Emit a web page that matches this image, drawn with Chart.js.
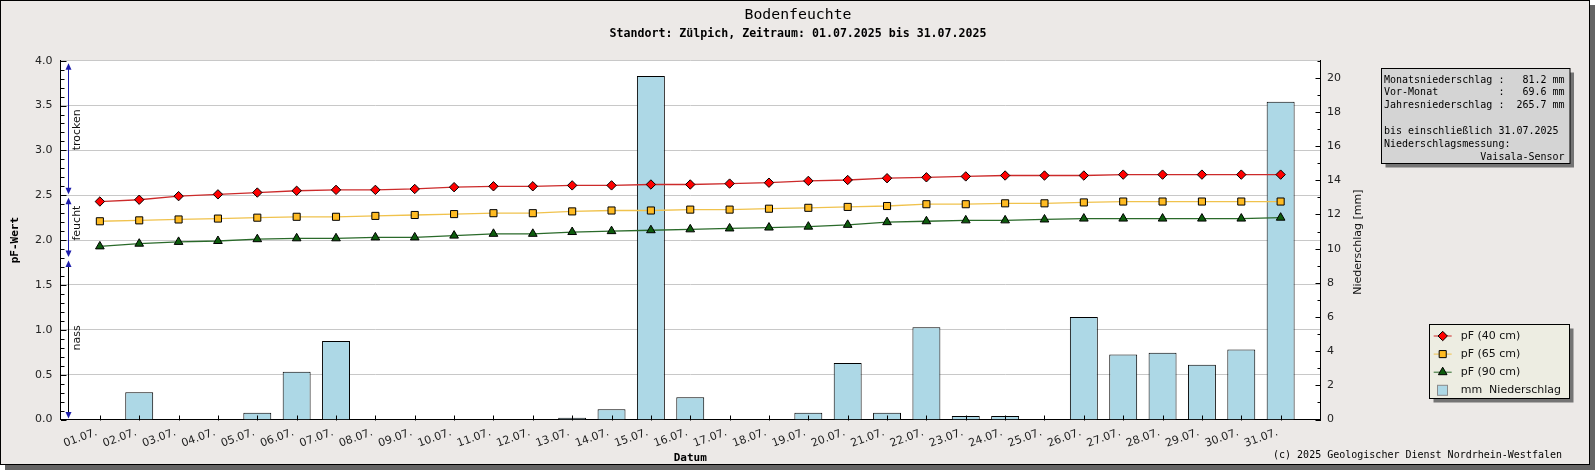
<!DOCTYPE html>
<html><head><meta charset="utf-8">
<script src="https://cdn.jsdelivr.net/npm/chart.js@4/dist/chart.umd.min.js"></script>
<style>html,body{margin:0;padding:0;background:#fff;overflow:hidden}#wrap{width:1595px;height:470px;position:relative}canvas{display:block}</style>
</head><body><div id="wrap"><canvas id="c" width="1595" height="470"></canvas></div>
<script>
// ---------------- data ----------------
const days = ['01.07.','02.07.','03.07.','04.07.','05.07.','06.07.','07.07.','08.07.','09.07.','10.07.',
  '11.07.','12.07.','13.07.','14.07.','15.07.','16.07.','17.07.','18.07.','19.07.','20.07.',
  '21.07.','22.07.','23.07.','24.07.','25.07.','26.07.','27.07.','28.07.','29.07.','30.07.','31.07.'];
const pf40 = [2.43,2.45,2.49,2.51,2.53,2.55,2.56,2.56,2.57,2.59,2.60,2.60,2.61,2.61,2.62,2.62,2.63,2.64,2.66,2.67,2.69,2.70,2.71,2.72,2.72,2.72,2.73,2.73,2.73,2.73,2.73];
const pf65 = [2.21,2.22,2.23,2.24,2.25,2.26,2.26,2.27,2.28,2.29,2.30,2.30,2.32,2.33,2.33,2.34,2.34,2.35,2.36,2.37,2.38,2.40,2.40,2.41,2.41,2.42,2.43,2.43,2.43,2.43,2.43];
const pf90 = [1.93,1.96,1.98,1.99,2.01,2.02,2.02,2.03,2.03,2.05,2.07,2.07,2.09,2.10,2.11,2.12,2.13,2.14,2.15,2.17,2.20,2.21,2.22,2.22,2.23,2.24,2.24,2.24,2.24,2.24,2.25];
const rainMm = [0,1.6,0,0,0.4,2.8,4.6,0,0,0,0,0,0.1,0.6,20.1,1.3,0,0,0.4,3.3,0.4,5.4,0.2,0.2,0,6.0,3.8,3.9,3.2,4.1,18.6];
const pfTicks = [0,0.5,1.0,1.5,2.0,2.5,3.0,3.5,4.0];
const rainTicks = [0,2,4,6,8,10,12,14,16,18,20];
const zoneNames = ['trocken','feucht','nass'];
const zoneTop = [4.0, 2.5, 1.8];
const zoneBottom = [2.5, 1.8, 0.0];
const zoneLabelAt = [3.23, 2.19, 0.91];
const infoLines = [
  'Monatsniederschlag :   81.2 mm',
  'Vor-Monat          :   69.6 mm',
  'Jahresniederschlag :  265.7 mm',
  '',
  'bis einschließlich 31.07.2025',
  'Niederschlagsmessung:',
  '                Vaisala-Sensor'
];
const titleText = 'Bodenfeuchte';
const subtitleText = 'Standort: Zülpich, Zeitraum: 01.07.2025 bis 31.07.2025';
const footerText = '(c) 2025 Geologischer Dienst Nordrhein-Westfalen';

// ---------------- styles ----------------
const SANS = 'DejaVu Sans';
const MONO = 'DejaVu Sans Mono';
const BG = '#ece9e7';
const ZONE_BLUE = '#1c1caa';

const xy = arr => arr.map((v, i) => ({x: i + 1, y: v}));

function drawMarker(ctx, style, r, x, y) {
  if (Chart.helpers && Chart.helpers.drawPoint) {
    Chart.helpers.drawPoint(ctx, {pointStyle: style, radius: r, rotation: 0, borderWidth: 1}, x, y);
    return;
  }
  ctx.beginPath();
  if (style === 'rectRot') { ctx.moveTo(x - r, y); ctx.lineTo(x, y - r); ctx.lineTo(x + r, y); ctx.lineTo(x, y + r); }
  else if (style === 'rect') { const s = r * Math.SQRT1_2; ctx.rect(x - s, y - s, 2 * s, 2 * s); }
  else { ctx.moveTo(x, y - r); ctx.lineTo(x + r * 0.866, y + r / 2); ctx.lineTo(x - r * 0.866, y + r / 2); }
  ctx.closePath(); ctx.fill(); ctx.stroke();
}

const decoPlugin = {
  id: 'deco',
  beforeDraw(chart) {
    const {ctx, chartArea: ca} = chart;
    ctx.save();
    ctx.fillStyle = '#646464';
    ctx.fillRect(5, 5, 1590, 465);
    ctx.fillStyle = BG;
    ctx.fillRect(0, 0, 1590, 465);
    ctx.strokeStyle = '#000'; ctx.lineWidth = 1;
    ctx.strokeRect(0.5, 0.5, 1589, 464);
    ctx.fillStyle = '#fff';
    ctx.fillRect(ca.left, ca.top, ca.right - ca.left, ca.bottom - ca.top);
    ctx.restore();
  },
  afterDraw(chart) {
    const {ctx, chartArea: ca, scales} = chart;
    const ys = scales.y, y2 = scales.y2, xs = scales.x;
    ctx.save();
    // inner tick marks
    ctx.strokeStyle = '#000'; ctx.lineWidth = 1;
    ctx.beginPath();
    const L = Math.round(ca.left) + 0.5;
    for (let k = 0; k <= 40; k++) {
      const yy = Math.round(ys.getPixelForValue(k / 10)) + 0.5;
      const len = (k % 5 === 0) ? 5 : 3;
      ctx.moveTo(L - 0.5, yy); ctx.lineTo(L + len, yy);
    }
    const R = Math.round(ca.right) + 0.5;
    for (let k = 0; k <= 21; k++) {
      const yy = Math.round(y2.getPixelForValue(k)) + 0.5;
      const len = (k % 2 === 0) ? 5 : 3;
      ctx.moveTo(R + 0.5, yy); ctx.lineTo(R - len, yy);
    }
    const B = Math.round(ca.bottom) + 0.5;
    days.forEach((d, i) => {
      const xx = Math.round(xs.getPixelForValue(i + 1)) + 0.5;
      ctx.moveTo(xx, B); ctx.lineTo(xx, B - 5);
    });
    ctx.stroke();

    // zone arrows
    const ax = Math.round(ca.left + 7.5) + 0.5;
    zoneNames.forEach((name, i) => {
      const t = ys.getPixelForValue(zoneTop[i]) + 2.5;
      const b = ys.getPixelForValue(zoneBottom[i]) - 1;
      ctx.strokeStyle = i === 2 ? '#000' : ZONE_BLUE;
      ctx.lineWidth = 1;
      ctx.beginPath(); ctx.moveTo(ax, t + 4); ctx.lineTo(ax, b - 4); ctx.stroke();
      ctx.fillStyle = ZONE_BLUE;
      ctx.beginPath(); ctx.moveTo(ax, t); ctx.lineTo(ax + 3, t + 6.5); ctx.lineTo(ax - 3, t + 6.5); ctx.closePath(); ctx.fill();
      ctx.beginPath(); ctx.moveTo(ax, b); ctx.lineTo(ax + 3, b - 6.5); ctx.lineTo(ax - 3, b - 6.5); ctx.closePath(); ctx.fill();
      ctx.save();
      ctx.translate(ca.left + 16.2, ys.getPixelForValue(zoneLabelAt[i]));
      ctx.rotate(-Math.PI / 2);
      ctx.fillStyle = '#111';
      ctx.font = '11px "' + SANS + '"';
      ctx.textAlign = 'center'; ctx.textBaseline = 'middle';
      ctx.fillText(name, 0, 0);
      ctx.restore();
    });

    // right axis title (reads bottom to top)
    ctx.save();
    ctx.translate(1358, (ca.top + ca.bottom) / 2 + 2);
    ctx.rotate(-Math.PI / 2);
    ctx.fillStyle = '#111';
    ctx.font = '11px "' + SANS + '"';
    ctx.textAlign = 'center'; ctx.textBaseline = 'middle';
    ctx.fillText('Niederschlag [mm]', 0, 0);
    ctx.restore();

    // titles
    ctx.fillStyle = '#000';
    ctx.textAlign = 'center'; ctx.textBaseline = 'middle';
    ctx.font = '14.8px "' + MONO + '"';
    ctx.fillText(titleText, 798, 15);
    ctx.font = 'bold 11.6px "' + MONO + '"';
    ctx.fillText(subtitleText, 798, 34);

    // footer
    ctx.font = '10px "' + MONO + '"';
    ctx.textAlign = 'right';
    ctx.fillText(footerText, 1562, 455);

    // info box
    const ib = {x: 1381.5, y: 68.5, w: 188.5, h: 95};
    ctx.fillStyle = '#747474';
    ctx.fillRect(ib.x + 4, ib.y + 4, ib.w, ib.h);
    ctx.fillStyle = '#d4d4d4';
    ctx.fillRect(ib.x, ib.y, ib.w, ib.h);
    ctx.strokeStyle = '#000'; ctx.lineWidth = 1;
    ctx.strokeRect(ib.x, ib.y, ib.w, ib.h);
    ctx.fillStyle = '#000';
    ctx.font = '10px "' + MONO + '"';
    ctx.textAlign = 'left'; ctx.textBaseline = 'middle';
    infoLines.forEach((s, i) => ctx.fillText(s, 1384, 80 + i * 12.9));

    // legend box
    const lb = {x: 1429.5, y: 324.5, w: 140, h: 74};
    ctx.fillStyle = '#747474';
    ctx.fillRect(lb.x + 4, lb.y + 4, lb.w, lb.h);
    ctx.fillStyle = '#edede2';
    ctx.fillRect(lb.x, lb.y, lb.w, lb.h);
    ctx.strokeStyle = '#000';
    ctx.strokeRect(lb.x, lb.y, lb.w, lb.h);
    chart.data.datasets.forEach((ds, i) => {
      const cy = 336 + i * 18.1;
      const cx = 1442.7;
      if (ds.type === 'line') {
        ctx.strokeStyle = ds.borderColor; ctx.lineWidth = 1;
        ctx.beginPath(); ctx.moveTo(cx - 9, cy); ctx.lineTo(cx + 9, cy); ctx.stroke();
        ctx.fillStyle = ds.pointBackgroundColor; ctx.strokeStyle = '#000'; ctx.lineWidth = 1;
        drawMarker(ctx, ds.pointStyle, ds.pointRadius, cx, cy);
      } else {
        ctx.fillStyle = ds.backgroundColor;
        ctx.fillRect(1437.5, cy - 5, 10, 10);
        ctx.strokeStyle = '#8a8a8a'; ctx.lineWidth = 1;
        ctx.strokeRect(1437.5, cy - 5, 10, 10);
      }
      ctx.fillStyle = '#111';
      ctx.font = '11px "' + SANS + '"';
      ctx.textAlign = 'left'; ctx.textBaseline = 'middle';
      ctx.fillText(ds.label, 1460.7, cy);
    });
    ctx.restore();
  }
};

new Chart(document.getElementById('c'), {
  type: 'bar',
  data: {
    datasets: [
      {type: 'line', label: 'pF (40 cm)', data: xy(pf40), yAxisID: 'y', borderColor: '#cc2a2a', borderWidth: 1.3,
        pointStyle: 'rectRot', pointRadius: 4.7, pointBackgroundColor: '#ff0000', pointBorderColor: '#000', pointBorderWidth: 1, order: 1},
      {type: 'line', label: 'pF (65 cm)', data: xy(pf65), yAxisID: 'y', borderColor: '#f0c24c', borderWidth: 1.3,
        pointStyle: 'rect', pointRadius: 5, pointBackgroundColor: '#ffbb22', pointBorderColor: '#000', pointBorderWidth: 1, order: 1},
      {type: 'line', label: 'pF (90 cm)', data: xy(pf90), yAxisID: 'y', borderColor: '#2a6a2a', borderWidth: 1.3,
        pointStyle: 'triangle', pointRadius: 5, pointBackgroundColor: '#0d5c0d', pointBorderColor: '#000', pointBorderWidth: 1, order: 1},
      {type: 'bar', label: 'mm  Niederschlag', data: xy(rainMm), yAxisID: 'y2', backgroundColor: '#add8e6', borderColor: '#000', borderWidth: 1,
        barPercentage: 0.71, categoryPercentage: 1, order: 5}
    ]
  },
  options: {
    responsive: false, animation: false,
    layout: {padding: {left: 0, top: 60.7, right: 225, bottom: 3.5}},
    plugins: {legend: {display: false}, tooltip: {enabled: false}, title: {display: false}},
    scales: {
      x: {
        type: 'linear', position: 'bottom', min: 0, max: 32, offset: false,
        afterBuildTicks: s => { s.ticks = days.map((d, i) => ({value: i + 1})); },
        ticks: {callback: v => days[v - 1] || '', autoSkip: false, minRotation: 20, maxRotation: 20, padding: 6.5, labelOffset: -3,
          font: {family: SANS, size: 11}, color: '#222'},
        grid: {display: false, drawTicks: false},
        border: {display: true, color: '#000', width: 1},
        title: {display: true, text: 'Datum', font: {family: MONO, size: 11, weight: 'bold'}, color: '#000', padding: {top: 0, bottom: 1.4}},
        afterFit: s => { s.height = 47; }
      },
      y: {
        type: 'linear', position: 'left', min: 0, max: 4,
        afterBuildTicks: s => { s.ticks = pfTicks.map(v => ({value: v})); },
        ticks: {callback: v => Number(v).toFixed(1), padding: 8, font: {family: SANS, size: 11}, color: '#222'},
        grid: {color: '#c8c8c8', lineWidth: 1, drawTicks: false},
        border: {display: true, color: '#000', width: 1},
        title: {display: true, text: 'pF-Wert', font: {family: MONO, size: 11, weight: 'bold'}, color: '#000', padding: {top: 8.4, bottom: 0}},
        afterFit: s => { s.width = 60.5; }
      },
      y2: {
        type: 'linear', position: 'right', min: 0, max: 21,
        afterBuildTicks: s => { s.ticks = rainTicks.map(v => ({value: v})); },
        ticks: {padding: 7, font: {family: SANS, size: 11}, color: '#222'},
        grid: {display: false, drawTicks: false},
        border: {display: true, color: '#000', width: 1},
        afterFit: s => { s.width = 50; }
      }
    }
  },
  plugins: [decoPlugin]
});
</script>
</body></html>
